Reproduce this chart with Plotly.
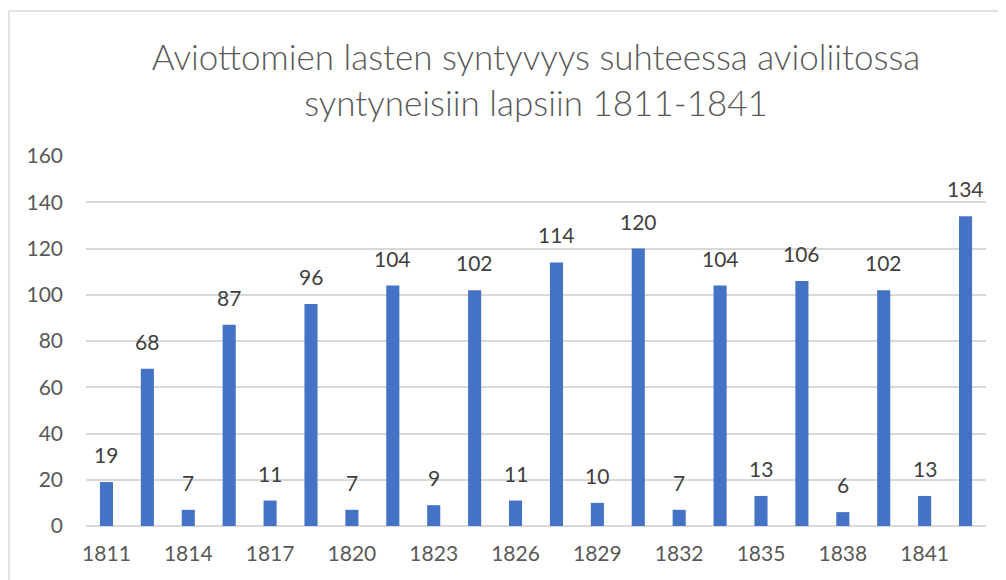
import plotly.graph_objects as go

title_text = "Aviottomien lasten syntyvyys suhteessa avioliitossa<br>syntyneisiin lapsiin 1811-1841"
tick_labels = ["1811", "", "1814", "", "1817", "", "1820", "", "1823", "", "1826", "",
               "1829", "", "1832", "", "1835", "", "1838", "", "1841", ""]
values = [19, 68, 7, 87, 11, 96, 7, 104, 9, 102, 11, 114, 10, 120, 7, 104, 13, 106, 6, 102, 13, 134]
y_ticks = [0, 20, 40, 60, 80, 100, 120, 140, 160]

FONT = "Lato, Carlito, Calibri, sans-serif"
positions = list(range(len(values)))

W, H = 998, 572  # page body adds an 8px margin
L, T = 78, 148
R, B = 20, 54
PW, PH = W - L - R, H - T - B

fig = go.Figure()
fig.add_trace(go.Bar(
    x=positions, y=values,
    marker=dict(color="#4472C4", line=dict(width=0)),
    hoverinfo="x+y",
))

annotations = []
for xi, v in zip(positions, values):
    annotations.append(dict(
        x=xi, y=v, xref="x", yref="y", text=str(v), showarrow=False,
        yanchor="bottom", yshift=13,
        font=dict(family=FONT, size=21, color="#404040"),
    ))

fig.update_layout(
    width=W, height=H,
    margin=dict(l=L, r=R, t=T, b=B),
    paper_bgcolor="white", plot_bgcolor="white",
    bargap=0.68,
    showlegend=False,
    title=dict(text=title_text, x=0.5, xanchor="center", xref="paper",
               y=1 - 62 / H, yanchor="middle", yref="container",
               font=dict(family=FONT, size=35, color="#595959", weight=300)),
    xaxis=dict(
        tickmode="array", tickvals=positions, ticktext=tick_labels,
        range=[-0.5, len(values) - 0.5],
        showgrid=False, zeroline=False, showline=False, ticks="",
        tickfont=dict(family=FONT, size=21, color="#595959"),
        ticklabelstandoff=13,
    ),
    yaxis=dict(
        range=[0, 160], tickmode="array", tickvals=y_ticks,
        showgrid=True, gridcolor="#D9D9D9", gridwidth=1.5,
        zeroline=True, zerolinecolor="#D9D9D9", zerolinewidth=1.5,
        showline=False, ticks="",
        tickfont=dict(family=FONT, size=21, color="#595959"),
        ticklabelstandoff=22,
    ),
    annotations=annotations,
    shapes=[dict(type="rect", xref="paper", yref="paper",
                 x0=(1 - L) / PW, x1=1.2, y0=-0.3, y1=(PH + T - 3) / PH,
                 line=dict(color="#D9D9D9", width=1.5), fillcolor="rgba(0,0,0,0)",
                 layer="below")],
)

fig.write_html("out.html")
